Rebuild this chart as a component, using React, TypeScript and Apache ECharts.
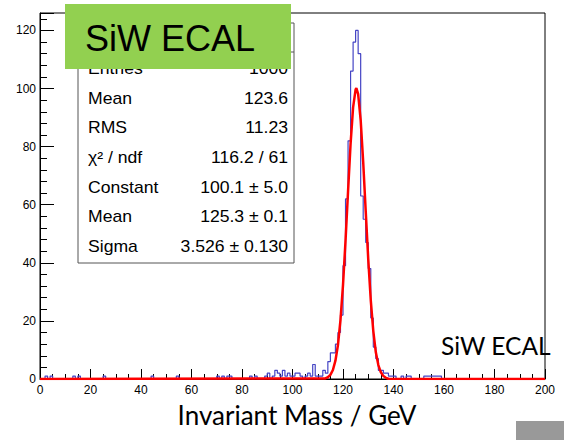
import React, { useEffect, useRef } from "react";
import * as echarts from "echarts";

// Histogram: lower edges (GeV) of non-empty 1 GeV bins and their counts
const binLow = [
  2, 4, 13, 15, 25, 44, 54, 70, 72, 74, 75, 83, 85, 89, 90, 92, 93, 94, 95, 96, 97, 98, 99,
  100, 101, 102, 103, 105, 106, 107, 108, 109, 110, 111, 112, 113, 114, 115, 116, 117, 118, 119,
  120, 121, 122, 123, 124, 125, 126, 127, 128, 129, 130, 131, 132, 133, 134, 135, 136, 137, 138,
  139, 140, 143, 145, 146, 152, 153, 154, 155, 156, 157, 158,
];
const binCount = [
  1, 1, 1, 1, 1, 1, 1, 1, 1, 1, 1, 1, 1, 1, 2, 1, 3, 2, 1, 3, 1, 2, 1,
  1, 2, 2, 1, 1, 2, 1, 5, 1, 1, 1, 3, 2, 6, 9, 9, 12, 16, 22,
  39, 62, 82, 106, 116, 120, 112, 63, 55, 47, 38, 21, 11, 7, 3, 3, 2, 2, 1,
  1, 1, 1, 1, 1, 1, 1, 1, 1, 1, 1, 1,
];

// Gaussian fit curve
const fitX = [0, 113, 114, 115, 116, 117, 118, 119, 120, 121, 122, 123, 124, 125, 125.3, 126, 127, 128, 129, 130, 131, 132, 133, 134, 135, 136, 137, 138, 200];
const fitY = [0, 0.2, 0.6, 1.4, 3.1, 6.3, 11.7, 20.3, 32.3, 47.6, 64.6, 80.9, 93.5, 99.7, 100.1, 98.1, 89.1, 74.7, 57.7, 41.2, 27.1, 16.5, 9.2, 4.8, 2.3, 1.0, 0.4, 0.1, 0];

// Stats box rows
const statLabels = ["Entries", "Mean", "RMS", "χ² / ndf", "Constant", "Mean", "Sigma"];
const statValues = ["1000", "123.6", "11.23", "116.2 / 61", "100.1 ± 5.0", "125.3 ± 0.1", "3.526 ± 0.130"];

const NBINS = 200;

export default function App() {
  const ref = useRef<HTMLDivElement>(null);
  useEffect(() => {
    document.body.style.margin = "0";
    if (!ref.current) return;
    const chart = echarts.init(ref.current, null, { renderer: "svg" });

    const counts: number[] = new Array(NBINS).fill(0);
    binLow.forEach((b, i) => {
      counts[b] = binCount[i];
    });
    const histData: number[][] = counts.map((c, i) => [i, c]);
    histData.push([NBINS, 0]);
    const fitData = fitX.map((x, i) => [x, fitY[i]]);

    const rootFont = "Liberation Sans";
    const statText: any[] = [];
    statLabels.forEach((l, i) => {
      const y = 69 + 29.6 * i;
      statText.push({
        type: "text",
        x: 88,
        y,
        z: 101,
        scaleX: 1.1,
        style: { text: l, fontSize: 16, fontFamily: rootFont, fill: "#000", align: "left", verticalAlign: "middle" },
      });
      statText.push({
        type: "text",
        x: 288,
        y,
        z: 101,
        scaleX: 1.1,
        style: { text: statValues[i], fontSize: 16, fontFamily: rootFont, fill: "#000", align: "right", verticalAlign: "middle" },
      });
    });

    const option: any = {
      animation: false,
      backgroundColor: "#fff",
      grid: { left: 40, right: 19, top: 13, bottom: 61, show: true, borderColor: "#000", borderWidth: 1 },
      xAxis: {
        type: "value",
        min: 0,
        max: 200,
        interval: 20,
        axisLine: { lineStyle: { color: "#000", width: 1 } },
        axisTick: { inside: true, length: 10, lineStyle: { color: "#000" } },
        minorTick: { show: true, splitNumber: 4, length: 5, lineStyle: { color: "#000" } },
        splitLine: { show: false },
        axisLabel: { color: "#000", fontSize: 12, fontFamily: rootFont, margin: 5 },
      },
      yAxis: {
        type: "value",
        min: 0,
        max: 126,
        interval: 20,
        axisLine: { show: true, lineStyle: { color: "#000", width: 1 } },
        axisTick: { show: true, inside: true, length: 14, lineStyle: { color: "#000" } },
        minorTick: { show: true, splitNumber: 5, length: 7, lineStyle: { color: "#000" } },
        splitLine: { show: false },
        axisLabel: { color: "#000", fontSize: 12, fontFamily: rootFont, margin: 4, showMaxLabel: false },
      },
      series: [
        {
          type: "line",
          step: "end",
          data: histData,
          symbol: "none",
          lineStyle: { color: "#4444c4", width: 1.2 },
          z: 2,
        },
        {
          type: "line",
          data: fitData,
          symbol: "none",
          lineStyle: { color: "#ff0000", width: 2.5 },
          z: 3,
        },
      ],
      graphic: [
        {
          type: "rect",
          z: 100,
          shape: { x: 78, y: 23, width: 216, height: 240 },
          style: { fill: "#fff", stroke: "#555", lineWidth: 1 },
        },
        {
          type: "line",
          z: 100,
          shape: { x1: 78, y1: 52, x2: 294, y2: 52 },
          style: { stroke: "#555", lineWidth: 1 },
        },
        ...statText,
        {
          type: "rect",
          z: 110,
          shape: { x: 65, y: 4, width: 226, height: 65 },
          style: { fill: "#92d050" },
        },
        {
          type: "text",
          z: 111,
          x: 85,
          y: 38,
          style: { text: "SiW ECAL", fontSize: 36, fontFamily: rootFont, fill: "#000", align: "left", verticalAlign: "middle" },
        },
        {
          type: "text",
          z: 111,
          x: 441,
          y: 345,
          style: { text: "SiW ECAL", fontSize: 24.5, fontFamily: "Lato", fill: "#000", align: "left", verticalAlign: "middle" },
        },
        {
          type: "text",
          z: 111,
          x: 297,
          y: 415,
          style: { text: "Invariant Mass / GeV", fontSize: 26, fontFamily: "Lato", fill: "#000", align: "center", verticalAlign: "middle" },
        },
        {
          type: "rect",
          z: 111,
          shape: { x: 516, y: 421, width: 48, height: 19 },
          style: { fill: "#999" },
        },
      ],
    };
    chart.setOption(option);
    return () => chart.dispose();
  }, []);
  return <div ref={ref} style={{ width: 564, height: 440, position: "absolute", left: 0, top: 0 }} />;
}
